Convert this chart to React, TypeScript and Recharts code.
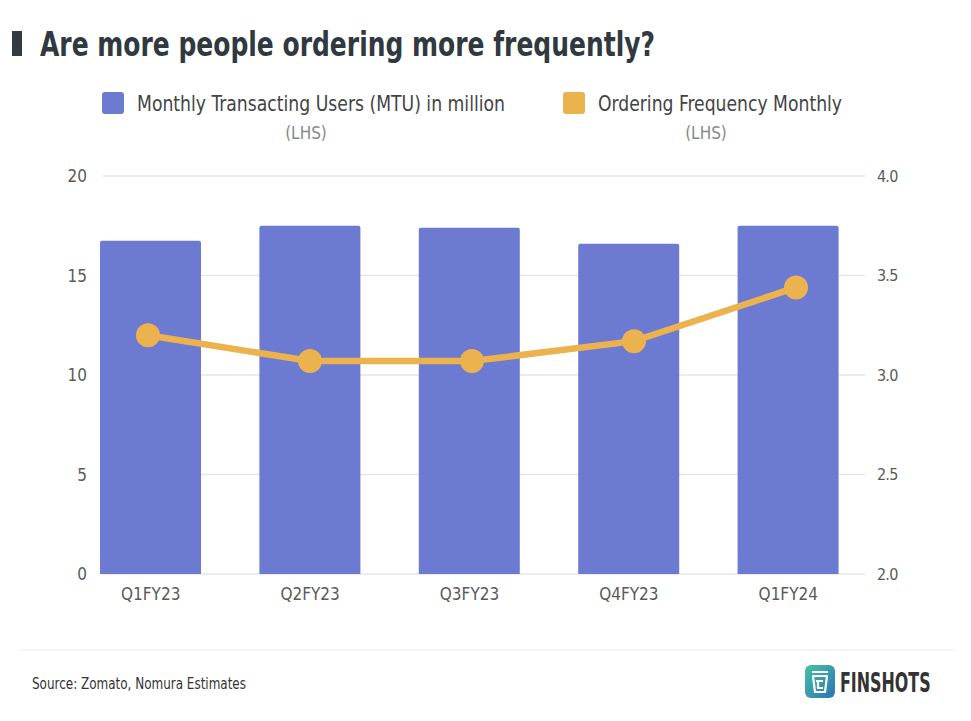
import React from 'react';
import { ComposedChart, Bar, Line, XAxis, YAxis, CartesianGrid } from 'recharts';

// Quarterly figures
const quarters = ['Q1FY23', 'Q2FY23', 'Q3FY23', 'Q4FY23', 'Q1FY24'];
const mtuMillions = [16.75, 17.5, 17.4, 16.6, 17.5];
const orderFrequency = [3.2, 3.07, 3.07, 3.17, 3.44];
const leftTicks = [0, 5, 10, 15, 20];
const rightTicks = [2, 2.5, 3, 3.5, 4];

const data = quarters.map((quarter, i) => ({
  quarter,
  mtu: mtuMillions[i],
  freq: orderFrequency[i],
}));

const FONT = '"DejaVu Sans Condensed", "DejaVu Sans", sans-serif';
const BAR_COLOR = '#6c7bd1';
const LINE_COLOR = '#ecb24d';
const GRID_COLOR = '#e6e6e6';
const TICK_COLOR = '#5a5a5a';

// Horizontal gridlines are inset from the plot edges
const GridLine = (props: any) => {
  const { x1, x2, y1, y2, key } = props;
  return (
    <line
      key={key}
      x1={x1 + 36}
      x2={x2 - 12}
      y1={y1}
      y2={y2}
      stroke={GRID_COLOR}
      strokeWidth={1.5}
    />
  );
};

const Overlay = () => (
  <svg
    width={971}
    height={721}
    style={{ position: 'absolute', left: 0, top: 0, pointerEvents: 'none' }}
  >
    <defs>
      <linearGradient id="logoGrad" x1="0" y1="0" x2="1" y2="1">
        <stop offset="0%" stopColor="#46c2a4" />
        <stop offset="100%" stopColor="#2b74b3" />
      </linearGradient>
    </defs>
    {/* Title */}
    <rect x={12} y={31} width={10} height={25} fill="#333a40" />
    <text
      x={40}
      y={56}
      fontFamily={FONT}
      fontWeight={700}
      fontSize={34}
      fill="#2f393f"
      textLength={615}
      lengthAdjust="spacingAndGlyphs"
    >
      Are more people ordering more frequently?
    </text>

    {/* Legend */}
    <rect x={102} y={92} width={22} height={22} rx={3} fill={BAR_COLOR} />
    <text
      x={137}
      y={111}
      fontFamily={FONT}
      fontSize={22}
      fill="#444"
      textLength={368}
      lengthAdjust="spacingAndGlyphs"
    >
      Monthly Transacting Users (MTU) in million
    </text>
    <text x={306} y={139} fontFamily={FONT} fontSize={17} fill="#888" textAnchor="middle">
      (LHS)
    </text>
    <rect x={563} y={92} width={22} height={22} rx={3} fill={LINE_COLOR} />
    <text
      x={598}
      y={111}
      fontFamily={FONT}
      fontSize={22}
      fill="#444"
      textLength={244}
      lengthAdjust="spacingAndGlyphs"
    >
      Ordering Frequency Monthly
    </text>
    <text x={706} y={139} fontFamily={FONT} fontSize={17} fill="#888" textAnchor="middle">
      (LHS)
    </text>

    {/* Footer */}
    <line x1={20} x2={955} y1={650} y2={650} stroke="#ececec" strokeWidth={1} />
    <text
      x={32}
      y={689}
      fontFamily={FONT}
      fontSize={16}
      fill="#333"
      textLength={214}
      lengthAdjust="spacingAndGlyphs"
    >
      Source: Zomato, Nomura Estimates
    </text>
    <rect x={805} y={665} width={30} height={33} rx={6} fill="url(#logoGrad)" />
    <path
      d="M812 672 H828 M813 676 L815 692 H825 L827 676 Z M816 681 H823 M818 681 V688 H823"
      stroke="#fff"
      strokeWidth={2.2}
      fill="none"
      strokeLinejoin="round"
    />
    <text
      transform="translate(840 692) scale(0.68 1)"
      fontFamily={FONT}
      fontWeight={700}
      fontSize={26}
      fill="#333"
    >
      FINSHOTS
    </text>
  </svg>
);

export default function App() {
  return (
    <div
      style={{
        position: 'absolute',
        left: 0,
        top: 0,
        width: 971,
        height: 721,
        background: '#fff',
        overflow: 'hidden',
      }}
    >
      <ComposedChart
        width={971}
        height={721}
        data={data}
        margin={{ top: 176, right: 54, bottom: 117, left: 27 }}
      >
        <CartesianGrid xAxisId="bars" yAxisId="left" vertical={false} horizontal={GridLine} />
        <XAxis
          xAxisId="bars"
          dataKey="quarter"
          padding={{ left: 4, right: 9 }}
          axisLine={false}
          tickLine={false}
          tickSize={0}
          tickMargin={14}
          height={30}
          tick={{ fill: TICK_COLOR, fontSize: 17, fontFamily: FONT }}
        />
        <XAxis xAxisId="line" dataKey="quarter" hide height={0} />
        <YAxis
          yAxisId="left"
          orientation="left"
          domain={[0, 20]}
          ticks={leftTicks}
          width={40}
          axisLine={false}
          tickLine={false}
          tickSize={0}
          tickMargin={0}
          tick={{ fill: TICK_COLOR, fontSize: 17, fontFamily: FONT, dx: 20 }}
        />
        <YAxis
          yAxisId="right"
          orientation="right"
          domain={[2, 4]}
          ticks={rightTicks}
          width={40}
          axisLine={false}
          tickLine={false}
          tickSize={0}
          tickMargin={0}
          tickFormatter={(v: number) => v.toFixed(1)}
          tick={{ fill: TICK_COLOR, fontSize: 16, fontFamily: FONT, letterSpacing: -0.8 }}
        />
        <Bar
          xAxisId="bars"
          yAxisId="left"
          dataKey="mtu"
          fill={BAR_COLOR}
          barSize={101}
          radius={[2, 2, 0, 0]}
          isAnimationActive={false}
        />
        <Line
          xAxisId="line"
          yAxisId="right"
          dataKey="freq"
          type="linear"
          stroke={LINE_COLOR}
          strokeWidth={6.5}
          dot={{ r: 12, fill: LINE_COLOR, stroke: LINE_COLOR, strokeWidth: 0 }}
          activeDot={false}
          isAnimationActive={false}
        />
      </ComposedChart>
      <Overlay />
    </div>
  );
}
